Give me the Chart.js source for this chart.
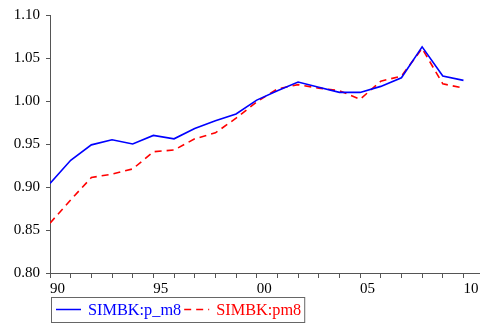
<!DOCTYPE html>
<html>
<head>
<meta charset="utf-8">
<script src="https://cdn.jsdelivr.net/npm/chart.js@4.4.0/dist/chart.umd.min.js"></script>
<style>
  html, body { margin: 0; padding: 0; background: #fff; }
</style>
</head>
<body>
<canvas id="chart" width="480" height="327"></canvas>
<script>
// values
const years = [1990, 1991, 1992, 1993, 1994, 1995, 1996, 1997, 1998, 1999, 2000,
               2001, 2002, 2003, 2004, 2005, 2006, 2007, 2008, 2009, 2010]
const p_m8 = [0.904, 0.931, 0.949, 0.955, 0.950, 0.960, 0.956, 0.968, 0.977, 0.985, 1.001,
              1.012, 1.022, 1.016, 1.010, 1.010, 1.017, 1.027, 1.063, 1.029, 1.024]
const pm8 = [0.858, 0.885, 0.911, 0.915, 0.921, 0.941, 0.943, 0.956, 0.963, 0.980, 0.999,
             1.014, 1.019, 1.015, 1.012, 1.002, 1.023, 1.029, 1.061, 1.020, 1.015]
const seriesNames = ['SIMBK:p_m8', 'SIMBK:pm8']
const yTicks = [0.80, 0.85, 0.90, 0.95, 1.00, 1.05, 1.10]
const xLabelYears = [1990, 1995, 2000, 2005, 2010]
const xLabels = ['90', '95', '00', '05', '10']

const axisColor = '#555'
const tickFont = { family: '"Liberation Serif", "Times New Roman", serif', size: 15 }

// legend drawn in a box under the axis, like the original
const boxLegend = {
  id: 'boxLegend',
  afterDraw (chart) {
    const ctx = chart.ctx
    const left = chart.chartArea.left + 1
    const top = 297
    const h = 25
    ctx.save()
    ctx.font = '16.3px "Liberation Serif", "Times New Roman", serif'
    ctx.textBaseline = 'middle'
    let x = left + 5
    const cy = top + h / 2
    chart.data.datasets.forEach((ds, i) => {
      ctx.strokeStyle = ds.borderColor
      ctx.lineWidth = 1.5
      ctx.setLineDash(ds.borderDash || [])
      ctx.beginPath()
      ctx.moveTo(x, cy)
      ctx.lineTo(x + 25, cy)
      ctx.stroke()
      x += 32
      ctx.fillStyle = ds.borderColor
      ctx.fillText(ds.label, x, cy + 1)
      x += ctx.measureText(ds.label).width + 3
    })
    ctx.setLineDash([])
    ctx.strokeStyle = '#666'
    ctx.lineWidth = 1
    ctx.strokeRect(left + 0.5, top + 0.5, x - left, h)
    ctx.restore()
  }
}

const makeChart = function () {
  const ctx = document.getElementById('chart')
  return new Chart(ctx, {
    type: 'line',
    data: {
      datasets: [{
        label: seriesNames[0],
        data: years.map((y, i) => ({ x: y, y: p_m8[i] })),
        borderColor: '#0000ff',
        borderWidth: 1.6,
        pointRadius: 0,
        tension: 0
      }, {
        label: seriesNames[1],
        data: years.map((y, i) => ({ x: y, y: pm8[i] })),
        borderColor: '#ff0000',
        borderWidth: 1.6,
        borderDash: [7, 5],
        pointRadius: 0,
        tension: 0
      }]
    },
    options: {
      responsive: false,
      animation: false,
      devicePixelRatio: 1,
      layout: { padding: { top: 12, right: 0, left: 0, bottom: 0 } },
      plugins: {
        legend: { display: false },
        tooltip: { enabled: false }
      },
      scales: {
        x: {
          type: 'linear',
          min: 1990,
          max: 2010.8,
          afterBuildTicks: s => { s.ticks = years.map(v => ({ value: v })) },
          afterFit: s => { s.height = 54; s.paddingLeft = 0; s.paddingRight = 0 },
          ticks: {
            align: 'start',
            autoSkip: false,
            maxRotation: 0,
            padding: 2,
            color: '#000',
            font: tickFont,
            callback: v => {
              const i = xLabelYears.indexOf(v)
              return i < 0 ? '' : xLabels[i]
            }
          },
          grid: { drawOnChartArea: false, drawTicks: true, tickLength: 5, color: axisColor },
          border: { color: axisColor, width: 1 }
        },
        y: {
          min: 0.80,
          max: 1.10,
          afterBuildTicks: s => { s.ticks = yTicks.map(v => ({ value: v })) },
          afterFit: s => { s.width = 50 },
          ticks: {
            padding: 6,
            color: '#000',
            font: tickFont,
            callback: v => v.toFixed(2)
          },
          grid: { drawOnChartArea: false, drawTicks: true, tickLength: 4, color: axisColor },
          border: { color: axisColor, width: 1 }
        }
      }
    },
    plugins: [boxLegend]
  })
}

makeChart()
</script>
</body>
</html>
